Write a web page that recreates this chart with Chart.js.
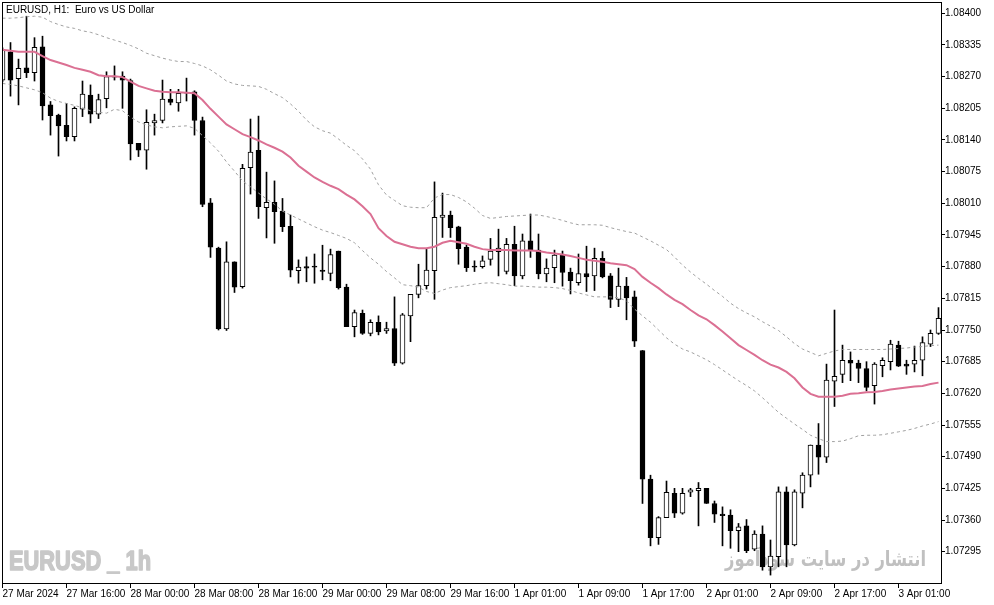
<!DOCTYPE html>
<html>
<head>
<meta charset="utf-8">
<script src="https://cdn.jsdelivr.net/npm/chart.js@4.4.1/dist/chart.umd.min.js"></script>
<style>
  html, body { margin: 0; padding: 0; background: #fff; }
  #wrap { width: 994px; height: 605px; }
</style>
</head>
<body>
<div id="wrap"><canvas id="c" width="994" height="605"></canvas></div>
<script>
// EURUSD H1, 27 Mar 08:00 -> 3 Apr 06:00 (118 bars)
const timeLabels = ['27 Mar 2024', '27 Mar 16:00', '28 Mar 00:00', '28 Mar 08:00', '28 Mar 16:00', '29 Mar 00:00', '29 Mar 08:00',
  '29 Mar 16:00', '1 Apr 01:00', '1 Apr 09:00', '1 Apr 17:00', '2 Apr 01:00', '2 Apr 09:00', '2 Apr 17:00', '3 Apr 01:00'];
const timeTickIdx = [0, 8, 16, 24, 32, 40, 48, 56, 64, 72, 80, 88, 96, 104, 112];
const priceTicks = [1.07295, 1.07360, 1.07425, 1.07490, 1.07555, 1.07620, 1.07685, 1.07750, 1.07815,
  1.07880, 1.07945, 1.08010, 1.08075, 1.08140, 1.08205, 1.08270, 1.08335, 1.08400];

const open = [
  1.08263, 1.08321, 1.08266, 1.08288, 1.08278, 1.08331, 1.08212, 1.08191, 1.08170, 1.08147,
  1.08203, 1.08232, 1.08193, 1.08225, 1.08269, 1.08271, 1.08262, 1.08133, 1.08119, 1.08175,
  1.08180, 1.08224, 1.08216, 1.08238, 1.08239, 1.08180, 1.08011, 1.07918, 1.07752, 1.07890,
  1.07839, 1.08083, 1.08119, 1.08001, 1.08012, 1.07994, 1.07963, 1.07872, 1.07880, 1.07881,
  1.07873, 1.07866, 1.07912, 1.07838, 1.07757, 1.07784, 1.07743, 1.07766, 1.07748, 1.07753,
  1.07682, 1.07779, 1.07823, 1.07841, 1.07872, 1.07981, 1.07986, 1.07962, 1.07920, 1.07881,
  1.07880, 1.07895, 1.07911, 1.07870, 1.07926, 1.07861, 1.07933, 1.07914, 1.07865, 1.07878,
  1.07904, 1.07869, 1.07847, 1.07866, 1.07861, 1.07897, 1.07861, 1.07813, 1.07840, 1.07818,
  1.07708, 1.07444, 1.07324, 1.07365, 1.07415, 1.07374, 1.07417, 1.07420, 1.07425, 1.07394,
  1.07372, 1.07370, 1.07338, 1.07348, 1.07300, 1.07331, 1.07264, 1.07285, 1.07418, 1.07309,
  1.07415, 1.07452, 1.07514, 1.07489, 1.07645, 1.07659, 1.07688, 1.07682, 1.07671, 1.07636,
  1.07677, 1.07685, 1.07719, 1.07680, 1.07680, 1.07688, 1.07721, 1.07743
];
const high = [
  1.08329, 1.08340, 1.08306, 1.08394, 1.08350, 1.08353, 1.08219, 1.08193, 1.08215, 1.08208,
  1.08261, 1.08253, 1.08234, 1.08280, 1.08292, 1.08280, 1.08265, 1.08133, 1.08202, 1.08193,
  1.08263, 1.08244, 1.08244, 1.08267, 1.08241, 1.08187, 1.08020, 1.07920, 1.07931, 1.07890,
  1.08090, 1.08183, 1.08189, 1.08074, 1.08056, 1.08020, 1.07986, 1.07894, 1.07900, 1.07906,
  1.07924, 1.07916, 1.07912, 1.07844, 1.07791, 1.07791, 1.07771, 1.07779, 1.07766, 1.07818,
  1.07784, 1.07823, 1.07885, 1.07916, 1.08054, 1.08031, 1.07994, 1.07963, 1.07924, 1.07892,
  1.07902, 1.07938, 1.07957, 1.07938, 1.07963, 1.07947, 1.07988, 1.07947, 1.07896, 1.07914,
  1.07912, 1.07877, 1.07906, 1.07922, 1.07918, 1.07911, 1.07866, 1.07877, 1.07858, 1.07830,
  1.07708, 1.07452, 1.07367, 1.07440, 1.07425, 1.07425, 1.07425, 1.07437, 1.07425, 1.07399,
  1.07387, 1.07381, 1.07353, 1.07361, 1.07338, 1.07348, 1.07319, 1.07428, 1.07428, 1.07422,
  1.07457, 1.07514, 1.07558, 1.07680, 1.07791, 1.07719, 1.07705, 1.07688, 1.07685, 1.07683,
  1.07693, 1.07729, 1.07727, 1.07688, 1.07717, 1.07736, 1.07750, 1.07796
];
const low = [
  1.08259, 1.08230, 1.08212, 1.08268, 1.08261, 1.08181, 1.08150, 1.08107, 1.08138, 1.08138,
  1.08188, 1.08175, 1.08184, 1.08206, 1.08263, 1.08205, 1.08099, 1.08106, 1.08080, 1.08150,
  1.08175, 1.08212, 1.08199, 1.08220, 1.08150, 1.08003, 1.07899, 1.07750, 1.07749, 1.07827,
  1.07836, 1.08029, 1.07979, 1.07939, 1.07928, 1.07952, 1.07859, 1.07846, 1.07849, 1.07846,
  1.07853, 1.07851, 1.07834, 1.07757, 1.07736, 1.07741, 1.07738, 1.07740, 1.07743, 1.07677,
  1.07680, 1.07726, 1.07816, 1.07834, 1.07813, 1.07940, 1.07940, 1.07885, 1.07870, 1.07870,
  1.07877, 1.07883, 1.07861, 1.07865, 1.07841, 1.07855, 1.07899, 1.07855, 1.07849, 1.07847,
  1.07840, 1.07824, 1.07842, 1.07829, 1.07831, 1.07857, 1.07796, 1.07798, 1.07771, 1.07716,
  1.07394, 1.07307, 1.07310, 1.07365, 1.07365, 1.07372, 1.07408, 1.07348, 1.07394, 1.07355,
  1.07307, 1.07302, 1.07295, 1.07293, 1.07297, 1.07257, 1.07247, 1.07264, 1.07264, 1.07307,
  1.07385, 1.07428, 1.07454, 1.07478, 1.07593, 1.07642, 1.07646, 1.07642, 1.07625, 1.07598,
  1.07654, 1.07668, 1.07675, 1.07659, 1.07664, 1.07656, 1.07716, 1.07741
];
const close = [
  1.08325, 1.08263, 1.08287, 1.08278, 1.08330, 1.08210, 1.08190, 1.08169, 1.08147, 1.08205,
  1.08234, 1.08193, 1.08223, 1.08270, 1.08271, 1.08263, 1.08132, 1.08119, 1.08176, 1.08180,
  1.08224, 1.08217, 1.08236, 1.08236, 1.08180, 1.08008, 1.07920, 1.07752, 1.07890, 1.07838,
  1.08082, 1.08115, 1.08003, 1.08012, 1.07993, 1.07962, 1.07873, 1.07879, 1.07877, 1.07879,
  1.07870, 1.07905, 1.07837, 1.07757, 1.07786, 1.07743, 1.07766, 1.07746, 1.07753, 1.07682,
  1.07781, 1.07823, 1.07841, 1.07873, 1.07981, 1.07986, 1.07960, 1.07917, 1.07878, 1.07879,
  1.07892, 1.07912, 1.07918, 1.07926, 1.07861, 1.07933, 1.07914, 1.07865, 1.07877, 1.07904,
  1.07868, 1.07851, 1.07866, 1.07859, 1.07897, 1.07859, 1.07813, 1.07840, 1.07816, 1.07727,
  1.07444, 1.07324, 1.07365, 1.07417, 1.07374, 1.07415, 1.07422, 1.07425, 1.07394, 1.07372,
  1.07369, 1.07338, 1.07346, 1.07297, 1.07331, 1.07264, 1.07286, 1.07418, 1.07309, 1.07418,
  1.07452, 1.07514, 1.07489, 1.07647, 1.07655, 1.07688, 1.07682, 1.07671, 1.07632, 1.07680,
  1.07688, 1.07721, 1.07676, 1.07676, 1.07688, 1.07724, 1.07743, 1.07774
];

// moving average (pink) and the dotted envelope around it
const maLine = [
  1.08325, 1.08323, 1.08321, 1.08321, 1.08321, 1.08312, 1.08304, 1.08299, 1.08294, 1.08288,
  1.08284, 1.08280, 1.08273, 1.08271, 1.08271, 1.08269, 1.08260, 1.08251, 1.08246, 1.08241,
  1.08239, 1.08238, 1.08238, 1.08237, 1.08236, 1.08222, 1.08204, 1.08188, 1.08172, 1.08162,
  1.08152, 1.08146, 1.08139, 1.08131, 1.08124, 1.08116, 1.08104, 1.08087, 1.08075, 1.08063,
  1.08054, 1.08046, 1.08039, 1.08028, 1.08018, 1.08004, 1.07988, 1.07959, 1.07943, 1.07931,
  1.07926, 1.07921, 1.07918, 1.07918, 1.07921, 1.07929, 1.07933, 1.07930, 1.07927, 1.07921,
  1.07916, 1.07914, 1.07914, 1.07914, 1.07913, 1.07913, 1.07913, 1.07912, 1.07909, 1.07907,
  1.07905, 1.07902, 1.07898, 1.07894, 1.07892, 1.07890, 1.07887, 1.07885, 1.07883, 1.07875,
  1.07859, 1.07847, 1.07836, 1.07823, 1.07812, 1.07803, 1.07791, 1.07780, 1.07772, 1.07760,
  1.07747, 1.07733, 1.07719, 1.07709, 1.07699, 1.07688, 1.07679, 1.07673, 1.07664, 1.07651,
  1.07632, 1.07619, 1.07613, 1.07613, 1.07613, 1.07615, 1.07619, 1.07620, 1.07622, 1.07623,
  1.07625, 1.07628, 1.07630, 1.07632, 1.07634, 1.07635, 1.07639, 1.07642
];
const bandUpper = [
  1.08390, 1.08390, 1.08391, 1.08393, 1.08394, 1.08392, 1.08383, 1.08377, 1.08372, 1.08369,
  1.08364, 1.08361, 1.08356, 1.08350, 1.08345, 1.08340, 1.08334, 1.08327, 1.08318, 1.08313,
  1.08308, 1.08304, 1.08301, 1.08301, 1.08297, 1.08292, 1.08284, 1.08273, 1.08261, 1.08255,
  1.08252, 1.08251, 1.08250, 1.08244, 1.08235, 1.08227, 1.08214, 1.08199, 1.08181, 1.08167,
  1.08159, 1.08154, 1.08142, 1.08129, 1.08118, 1.08101, 1.08080, 1.08048, 1.08027, 1.08016,
  1.08005, 1.08002, 1.08001, 1.08001, 1.08021, 1.08028, 1.08028, 1.08022, 1.08013, 1.08000,
  1.07985, 1.07979, 1.07981, 1.07983, 1.07984, 1.07985, 1.07986, 1.07986, 1.07983, 1.07979,
  1.07975, 1.07970, 1.07966, 1.07966, 1.07966, 1.07965, 1.07960, 1.07956, 1.07952, 1.07949,
  1.07941, 1.07933, 1.07924, 1.07915, 1.07900, 1.07883, 1.07869, 1.07856, 1.07844, 1.07831,
  1.07819, 1.07805, 1.07794, 1.07785, 1.07777, 1.07767, 1.07758, 1.07749, 1.07736, 1.07722,
  1.07711, 1.07704, 1.07697, 1.07702, 1.07707, 1.07710, 1.07710, 1.07710, 1.07710, 1.07710,
  1.07710, 1.07711, 1.07712, 1.07713, 1.07715, 1.07716, 1.07718, 1.07719
];
const bandLower = [
  1.08256, 1.08254, 1.08251, 1.08247, 1.08243, 1.08237, 1.08226, 1.08219, 1.08215, 1.08211,
  1.08206, 1.08200, 1.08197, 1.08195, 1.08203, 1.08200, 1.08187, 1.08177, 1.08171, 1.08167,
  1.08165, 1.08167, 1.08168, 1.08169, 1.08164, 1.08149, 1.08134, 1.08117, 1.08095, 1.08076,
  1.08056, 1.08044, 1.08031, 1.08019, 1.08008, 1.07994, 1.07986, 1.07978, 1.07970, 1.07962,
  1.07955, 1.07950, 1.07944, 1.07938, 1.07929, 1.07913, 1.07898, 1.07885, 1.07870, 1.07857,
  1.07843, 1.07841, 1.07838, 1.07829, 1.07825, 1.07832, 1.07837, 1.07839, 1.07841, 1.07844,
  1.07846, 1.07847, 1.07845, 1.07843, 1.07840, 1.07840, 1.07839, 1.07838, 1.07838, 1.07837,
  1.07835, 1.07831, 1.07826, 1.07822, 1.07818, 1.07818, 1.07818, 1.07816, 1.07810, 1.07793,
  1.07779, 1.07766, 1.07750, 1.07734, 1.07721, 1.07711, 1.07705, 1.07697, 1.07689, 1.07679,
  1.07668, 1.07657, 1.07646, 1.07636, 1.07625, 1.07611, 1.07596, 1.07581, 1.07569, 1.07557,
  1.07546, 1.07534, 1.07527, 1.07521, 1.07521, 1.07522, 1.07527, 1.07533, 1.07534, 1.07534,
  1.07535, 1.07538, 1.07541, 1.07544, 1.07548, 1.07553, 1.07557, 1.07562
];

Chart.defaults.font.family = '"Liberation Sans", Arial, sans-serif';
Chart.defaults.font.size = 10;
Chart.defaults.color = '#000';

const idx = open.map((_, i) => i);
const pts = arr => idx.map(i => ({ x: i, y: arr[i] }));

// watermarks behind candles, title + frame on top
const decor = {
  id: 'decor',
  beforeDatasetsDraw(chart) {
    const ctx = chart.ctx;
    ctx.save();
    ctx.fillStyle = '#c8c8c8'; ctx.strokeStyle = '#c8c8c8'; ctx.lineWidth = 1.6; ctx.lineJoin = 'round';
    ctx.font = 'bold 28px "Liberation Sans Narrow", "Liberation Sans", sans-serif';
    ctx.textAlign = 'left'; ctx.textBaseline = 'alphabetic';
    const t1 = 'EURUSD _ 1h';
    const w1 = ctx.measureText(t1).width;
    ctx.translate(9, 570); ctx.scale(142 / w1, 1);
    ctx.fillText(t1, 0, 0);
    ctx.strokeText(t1, 0, 0);
    ctx.restore();

    ctx.save();
    ctx.fillStyle = '#c0c0c0';
    ctx.font = 'bold 21px "DejaVu Sans", sans-serif';
    ctx.direction = 'rtl'; ctx.textAlign = 'right'; ctx.textBaseline = 'alphabetic';
    const t2 = 'انتشار در سایت سودآموز';
    const w2 = ctx.measureText(t2).width;
    ctx.translate(926, 566); ctx.scale(201 / w2, 1);
    ctx.fillText(t2, 0, 0);
    ctx.restore();
  },
  afterDraw(chart) {
    const ctx = chart.ctx, a = chart.chartArea;
    ctx.save();
    ctx.strokeStyle = '#000'; ctx.lineWidth = 1;
    ctx.strokeRect(a.left + 0.5, a.top + 0.5, a.right - a.left - 1, a.bottom - a.top - 1);
    ctx.fillStyle = '#000';
    ctx.font = '10px "Liberation Sans", Arial, sans-serif';
    ctx.textAlign = 'left'; ctx.textBaseline = 'alphabetic';
    ctx.fillText('EURUSD, H1:  Euro vs US Dollar', 6, 13);
    ctx.restore();
  }
};

new Chart(document.getElementById('c'), {
  type: 'bar',
  data: {
    datasets: [
      { type: 'line', data: pts(maLine), borderColor: '#db7093', borderWidth: 2, pointRadius: 0, tension: 0 },
      { type: 'line', data: pts(bandUpper), borderColor: '#a0a0a0', borderWidth: 1, borderDash: [3, 3], pointRadius: 0, tension: 0 },
      { type: 'line', data: pts(bandLower), borderColor: '#a0a0a0', borderWidth: 1, borderDash: [3, 3], pointRadius: 0, tension: 0 },
      { data: idx.map(i => ({ x: i, y: [open[i], close[i]] })), grouped: false, barThickness: 5,
        backgroundColor: idx.map(i => close[i] >= open[i] ? '#ffffff' : '#000000'),
        borderColor: '#000', borderWidth: 1, borderSkipped: false },
      { data: idx.map(i => ({ x: i, y: [low[i], high[i]] })), grouped: false, barThickness: 1,
        backgroundColor: '#000', borderWidth: 0 }
    ]
  },
  options: {
    responsive: false,
    devicePixelRatio: 1,
    animation: false,
    events: [],
    layout: { padding: { left: 2, top: 2, right: 0, bottom: 0 } },
    plugins: { legend: { display: false }, tooltip: { enabled: false } },
    scales: {
      x: {
        type: 'linear', min: -0.0625, max: 117.4375, offset: false,
        afterBuildTicks: s => { s.ticks = timeTickIdx.map(v => ({ value: v })); },
        afterFit: s => { s.height = 21; s.paddingLeft = 0; s.paddingRight = 0; },
        grid: { offset: false, drawOnChartArea: false, drawTicks: true, tickLength: 4, tickColor: '#000' },
        border: { display: false },
        ticks: { autoSkip: false, maxRotation: 0, minRotation: 0, align: 'start', padding: 0,
          callback: (v, i) => timeLabels[i] }
      },
      y: {
        position: 'right', min: 1.072287, max: 1.084232,
        afterBuildTicks: s => { s.ticks = priceTicks.map(v => ({ value: v })); },
        afterFit: s => { s.width = 52; s.paddingTop = 0; s.paddingBottom = 0; },
        grid: { drawOnChartArea: false, drawTicks: true, tickLength: 3, tickColor: '#000' },
        border: { display: false },
        ticks: { padding: 0, callback: v => v.toFixed(5) }
      }
    }
  },
  plugins: [decor]
});
</script>
</body>
</html>
